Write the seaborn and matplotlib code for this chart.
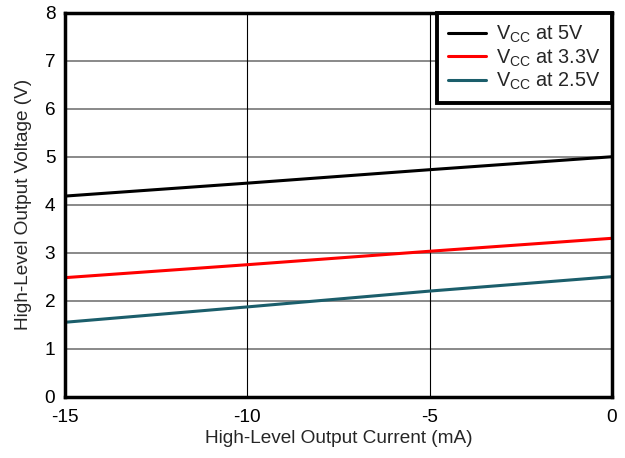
import matplotlib
matplotlib.use("Agg")
import matplotlib.pyplot as plt
import seaborn as sns
import pandas as pd

current_ma = [-15, -10, -5, 0]
vcc_5v = [4.18, 4.45, 4.73, 5.00]
vcc_3v3 = [2.48, 2.75, 3.03, 3.30]
vcc_2v5 = [1.55, 1.87, 2.20, 2.50]
series_labels = [r"V$_{\mathregular{CC}}$ at 5V",
                 r"V$_{\mathregular{CC}}$ at 3.3V",
                 r"V$_{\mathregular{CC}}$ at 2.5V"]
colors = ["#000000", "#FF0000", "#1B5E6B"]
x_ticks = [-15, -10, -5, 0]
y_ticks = [0, 1, 2, 3, 4, 5, 6, 7, 8]

sns.set_style("white")
plt.rcParams['font.family'] = ['Liberation Sans', 'DejaVu Sans']
plt.rcParams['mathtext.fontset'] = 'custom'
plt.rcParams['mathtext.rm'] = 'Liberation Sans'
plt.rcParams['mathtext.it'] = 'Liberation Sans'
plt.rcParams['axes.unicode_minus'] = False

rows = []
for lab, vals in zip(series_labels, [vcc_5v, vcc_3v3, vcc_2v5]):
    for x, y in zip(current_ma, vals):
        rows.append({"I": x, "V": y, "s": lab})
df = pd.DataFrame(rows)

fig = plt.figure(figsize=(6.25, 4.58), dpi=100)
ax = fig.add_axes([0.104, 0.134, 0.875, 0.838])

# grid
for yv in y_ticks[1:-1]:
    ax.axhline(yv, color="#808080", lw=1.3, zorder=1)
for xv in x_ticks[1:-1]:
    ax.axvline(xv, color="#000000", lw=0.8, zorder=1)

sns.lineplot(data=df, x="I", y="V", hue="s", palette=colors, hue_order=series_labels,
             lw=2.2, ax=ax, zorder=3, legend=True)

fs = 13.7
ax.set_xlim(-15, 0)
ax.set_ylim(0, 8)
ax.set_xticks(x_ticks)
ax.set_yticks(y_ticks)
ax.tick_params(axis='both', length=0, labelsize=fs, colors='black')
ax.tick_params(axis='x', pad=9)
ax.tick_params(axis='y', pad=7)
ax.set_xlabel("High-Level Output Current (mA)", fontsize=fs, labelpad=3)
ax.set_ylabel("High-Level Output Voltage (V)", fontsize=fs, labelpad=9)
for sp in ax.spines.values():
    sp.set_visible(True)
    sp.set_color("black")
    sp.set_linewidth(2.5)
    sp.set_zorder(5)

handles, labels = ax.get_legend_handles_labels()
leg = ax.legend(handles, labels, loc="upper right", borderaxespad=0, fancybox=False,
                edgecolor="black", framealpha=1, fontsize=14.3, handlelength=1.9,
                handletextpad=0.55, labelspacing=0.12, borderpad=0.55)
leg.get_frame().set_linewidth(2.8)
leg.set_zorder(6)
for l in leg.get_lines():
    l.set_linewidth(2.2)

fig.savefig("out.png", dpi=100)
